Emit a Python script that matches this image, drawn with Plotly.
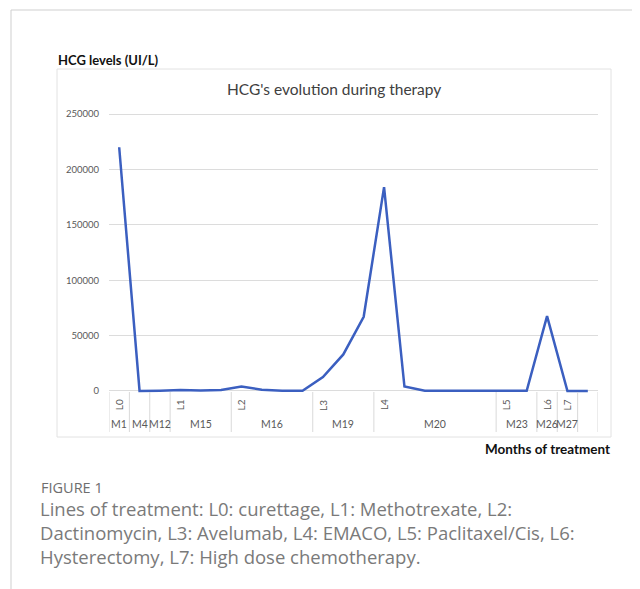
import plotly.graph_objects as go
import numpy as np

# ---- data ----
hcg_values = [220000, 0, 300, 800, 500, 900, 4000, 1200, 300, 200,
              12500, 33000, 67000, 184000, 4000, 300, 200, 200, 100, 100,
              100, 67500, 0, 0]
line_labels = ["L0", "", "", "L1", "", "", "L2", "", "", "",
               "L3", "", "", "L4", "", "", "", "", "", "L5",
               "", "L6", "L7", ""]
month_labels = ["M1", "M4", "M12", "M15", "M16", "M19", "M20", "M23", "M26", "M27", ""]
month_spans = [1, 1, 1, 3, 4, 3, 6, 2, 1, 1, 1]
y_ticks = [0, 50000, 100000, 150000, 200000, 250000]
caption_lines = [
    "Lines of treatment: L0: curettage, L1: Methotrexate, L2:",
    "Dactinomycin, L3: Avelumab, L4: EMACO, L5: Paclitaxel/Cis, L6:",
    "Hysterectomy, L7: High dose chemotherapy.",
]

# the page body has an 8px margin; map window pixels into figure fractions
OFF = 8
W, H = 632, 581
def px(x):
    return (x - OFF) / W
def py(y):
    return 1 - (y - OFF) / H

idx = list(range(len(hcg_values)))

fig = go.Figure()
fig.add_trace(go.Scatter(
    x=idx, y=hcg_values, mode="lines",
    line=dict(color="#3b5fc0", width=2.5),
    hoverinfo="skip", showlegend=False,
))

n = len(hcg_values)
fig.update_layout(
    width=W, height=H,
    margin=dict(l=0, r=0, t=0, b=0),
    paper_bgcolor="white", plot_bgcolor="rgba(0,0,0,0)",
    font=dict(family="Lato, sans-serif"),
    xaxis=dict(domain=[px(109), px(598)], range=[-0.5, n - 0.5],
               showgrid=False, zeroline=False, showticklabels=False,
               ticks="", showline=False, fixedrange=True),
    yaxis=dict(domain=[py(396.5), py(108.5)], range=[-5000, 255000],
               tickvals=y_ticks, ticktext=[str(v) for v in y_ticks],
               showgrid=True, gridcolor="#dcdcdc", gridwidth=1,
               zeroline=False, showline=False, ticks="",
               tickfont=dict(size=9.5, color="#595959", family="Lato, sans-serif"),
               ticklabelstandoff=9),
)

shapes = []
# outer article frame
shapes.append(dict(type="line", xref="paper", yref="paper", x0=px(11), x1=1,
                   y0=py(10), y1=py(10), line=dict(color="#cfcfcf", width=1)))
shapes.append(dict(type="line", xref="paper", yref="paper", x0=px(11), x1=px(11),
                   y0=py(10), y1=0, line=dict(color="#cfcfcf", width=1)))
# chart area box
shapes.append(dict(type="rect", xref="paper", yref="paper", x0=px(57), x1=px(611),
                   y0=py(437), y1=py(69), line=dict(color="#e2e2e2", width=1),
                   layer="below"))
# category separators
bounds = [-0.5] + list(np.cumsum(month_spans) - 0.5)
for b in bounds:
    shapes.append(dict(type="line", xref="x", yref="paper", x0=b, x1=b,
                       y0=py(392), y1=py(432), line=dict(color="#d9d9d9", width=1)))
fig.update_layout(shapes=shapes)

ann = []
# inner level (lines of treatment), rotated
for i, lab in enumerate(line_labels):
    if lab:
        ann.append(dict(x=i, y=py(405), xref="x", yref="paper", text=lab,
                        showarrow=False, textangle=-90,
                        xanchor="center", yanchor="middle",
                        font=dict(size=10, color="#595959", family="Lato, sans-serif")))
# outer level (months)
start = 0
for lab, span in zip(month_labels, month_spans):
    c = start + (span - 1) / 2
    if lab:
        ann.append(dict(x=c, y=py(424), xref="x", yref="paper", text=lab,
                        showarrow=False, xanchor="center", yanchor="middle",
                        font=dict(size=10.5, color="#595959", family="Lato, sans-serif")))
    start += span

ann.append(dict(x=px(334), y=py(89), xref="paper", yref="paper",
                xanchor="center", yanchor="middle",
                text="HCG's evolution during therapy", showarrow=False,
                font=dict(size=15.5, color="#404040", family="Lato, sans-serif")))
ann.append(dict(x=px(56), y=py(60), xref="paper", yref="paper",
                xanchor="left", yanchor="middle",
                text="<b>HCG levels (UI/L)</b>", showarrow=False,
                font=dict(size=13, color="#111111", family="Lato, sans-serif")))
ann.append(dict(x=px(612), y=py(449), xref="paper", yref="paper",
                xanchor="right", yanchor="middle",
                text="<b>Months of treatment</b>", showarrow=False,
                font=dict(size=13.5, color="#111111", family="Lato, sans-serif")))
ann.append(dict(x=px(39), y=py(487), xref="paper", yref="paper",
                xanchor="left", yanchor="middle",
                text="FIGURE 1", showarrow=False,
                font=dict(size=14.5, color="#6e6e6e", family="Open Sans, sans-serif")))
ann.append(dict(x=px(38), y=py(532.5), xref="paper", yref="paper",
                xanchor="left", yanchor="middle", align="left",
                text="<br>".join(caption_lines), showarrow=False,
                font=dict(size=18.5, color="#7a7a7a", family="Open Sans, sans-serif")))
fig.update_layout(annotations=ann)

fig.write_html("out.html")
